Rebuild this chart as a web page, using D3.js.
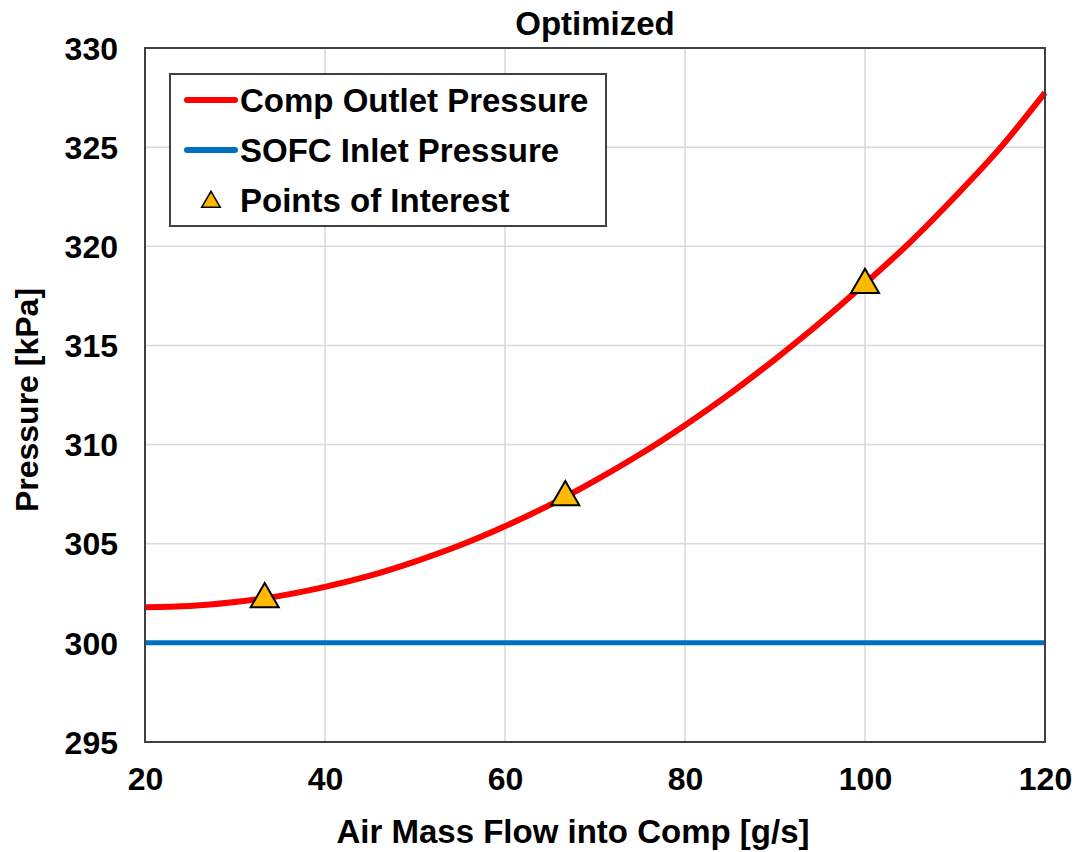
<!DOCTYPE html>
<html lang="en">
<head>
  <meta charset="UTF-8">
  <title>Optimized</title>
  <script src="https://d3js.org/d3.v7.min.js"></script>
  <style>
    body { margin: 0; background: #fff; }
    text { font-family: "Liberation Sans", Arial, sans-serif; font-weight: bold; fill: #000; }
    .grid line { stroke: #d9d9d9; stroke-width: 1.5px; }
  </style>
</head>
<body>
  <svg id="chart" width="1076" height="852"></svg>
  <script>
    // curve, every 5 g/s
    const flow = [20, 25, 30, 35, 40, 45, 50, 55, 60, 65, 70, 75, 80, 85, 90, 95, 100, 105, 110, 115, 120];
    const compOutlet = [301.8, 301.86, 302.06, 302.37, 302.82, 303.39, 304.1, 304.92, 305.88, 306.96,
                        308.18, 309.51, 310.98, 312.57, 314.3, 316.14, 318.12, 320.2, 322.5, 324.95, 327.75];
    const sofcInlet = [300, 300];
    const sofcFlow = [20, 120];
    const poiFlow = [33.3, 66.7, 100];
    const poiPressure = [302.2, 307.35, 318.05];
    const xTicks = [20, 40, 60, 80, 100, 120];
    const yTicks = [295, 300, 305, 310, 315, 320, 325, 330];

    const margin = { left: 145, top: 48, right: 1045, bottom: 742 };
    const svg = d3.select("#chart");

    const x = d3.scaleLinear().domain([20, 120]).range([margin.left, margin.right]);
    const y = d3.scaleLinear().domain([295, 330]).range([margin.bottom, margin.top]);

    // gridlines
    const grid = svg.append("g").attr("class", "grid");
    grid.selectAll(".vx").data(xTicks.slice(1, -1)).enter().append("line")
      .attr("x1", d => x(d)).attr("x2", d => x(d))
      .attr("y1", margin.top).attr("y2", margin.bottom);
    grid.selectAll(".hy").data(yTicks.slice(1, -1)).enter().append("line")
      .attr("x1", margin.left).attr("x2", margin.right)
      .attr("y1", d => y(d)).attr("y2", d => y(d));

    // axes (labels only, frame drawn separately)
    const xAxis = svg.append("g")
      .attr("transform", `translate(0,${margin.bottom})`)
      .call(d3.axisBottom(x).tickValues(xTicks).tickSize(0).tickPadding(25));
    xAxis.select(".domain").remove();
    xAxis.selectAll("text").attr("font-size", 32).attr("dy", "0.71em");

    const yAxis = svg.append("g")
      .attr("transform", `translate(${margin.left},0)`)
      .call(d3.axisLeft(y).tickValues(yTicks).tickSize(0).tickPadding(27));
    yAxis.select(".domain").remove();
    yAxis.selectAll("text").attr("font-size", 32).attr("dy", "0.35em");

    // data lines
    const line = d3.line().x(d => x(d[0])).y(d => y(d[1])).curve(d3.curveMonotoneX);
    svg.append("path")
      .datum(sofcFlow.map((f, i) => [f, sofcInlet[i]]))
      .attr("fill", "none").attr("stroke", "#0070c0").attr("stroke-width", 5)
      .attr("d", line);
    svg.append("path")
      .datum(flow.map((f, i) => [f, compOutlet[i]]))
      .attr("fill", "none").attr("stroke", "#ff0000").attr("stroke-width", 6)
      .attr("d", line);

    // plot frame
    svg.append("rect")
      .attr("x", margin.left).attr("y", margin.top)
      .attr("width", margin.right - margin.left).attr("height", margin.bottom - margin.top)
      .attr("fill", "none").attr("stroke", "#404040").attr("stroke-width", 2);

    // points of interest
    const tri = d3.symbol().type(d3.symbolTriangle).size(340);
    svg.selectAll(".poi").data(poiFlow).enter().append("path")
      .attr("d", tri)
      .attr("transform", (d, i) => `translate(${x(d)},${y(poiPressure[i])})`)
      .attr("fill", "#ffb900").attr("stroke", "#000").attr("stroke-width", 2);

    // titles
    svg.append("text").attr("x", 595).attr("y", 35).attr("text-anchor", "middle")
      .attr("font-size", 33).text("Optimized");
    svg.append("text").attr("x", 573).attr("y", 843).attr("text-anchor", "middle")
      .attr("font-size", 33).text("Air Mass Flow into Comp [g/s]");
    svg.append("text").attr("transform", "translate(38,400) rotate(-90)")
      .attr("text-anchor", "middle").attr("font-size", 32).text("Pressure [kPa]");

    // legend
    const legend = svg.append("g");
    legend.append("rect").attr("x", 170).attr("y", 74).attr("width", 436).attr("height", 152)
      .attr("fill", "#fff").attr("stroke", "#404040").attr("stroke-width", 2);
    const items = [
      { label: "Comp Outlet Pressure", color: "#ff0000", kind: "line" },
      { label: "SOFC Inlet Pressure", color: "#0070c0", kind: "line" },
      { label: "Points of Interest", color: "#ffb900", kind: "tri" }
    ];
    items.forEach((it, i) => {
      const cy = 100 + i * 50;
      if (it.kind === "line") {
        legend.append("line").attr("x1", 187).attr("x2", 235).attr("y1", cy).attr("y2", cy)
          .attr("stroke", it.color).attr("stroke-width", 6).attr("stroke-linecap", "round");
      } else {
        legend.append("path").attr("d", d3.symbol().type(d3.symbolTriangle).size(150))
          .attr("transform", `translate(211,${cy + 2})`)
          .attr("fill", it.color).attr("stroke", "#000").attr("stroke-width", 1.5);
      }
      legend.append("text").attr("x", 240).attr("y", cy).attr("dy", "0.36em")
        .attr("font-size", 33).text(it.label);
    });
  </script>
</body>
</html>
